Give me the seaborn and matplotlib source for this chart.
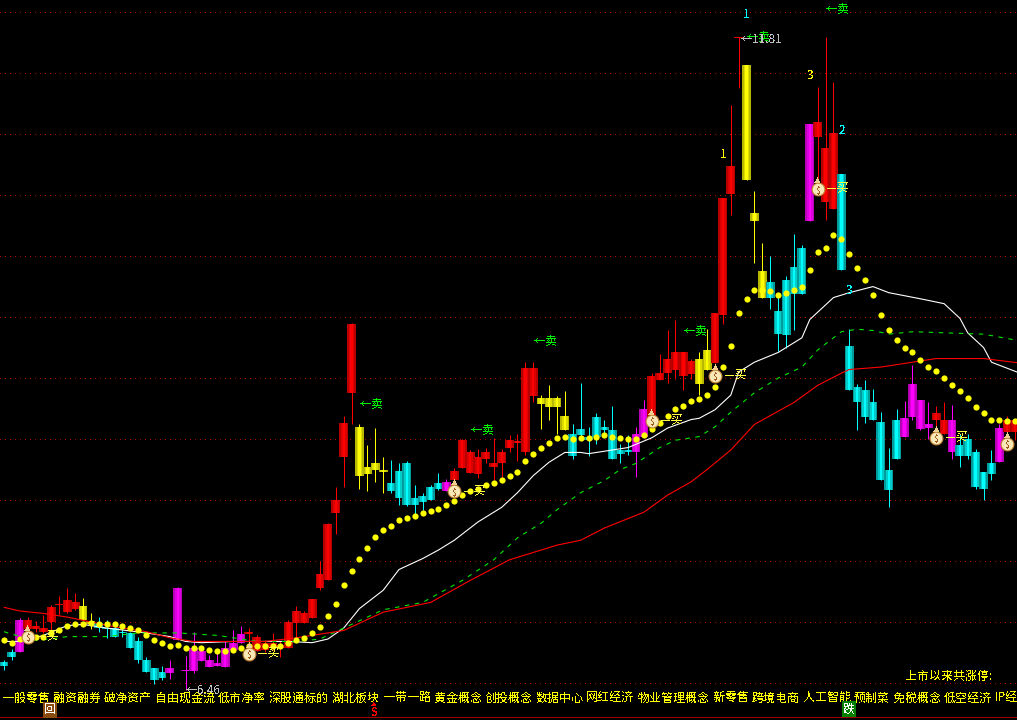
#!/usr/bin/env python3
"""Daily candlestick chart with moving averages, dark terminal style."""
import matplotlib
matplotlib.use("Agg")
import matplotlib.pyplot as plt
import numpy as np
import seaborn as sns

# candle kinds: r up, c down, y and m are the highlighted phases
kinds = "ccm" + "r" * 7 + "yy" + "c" * 9 + "m" * 10 + "r" * 14 + "y" * 4 + "c" * 7 + "m" \
    + "r" * 11 + "y" * 4 + "c" * 8 + "mm" + "r" * 6 + "yy" + "r" * 4 + "yyy" + "c" * 5 + "m" \
    + "rrr" + "c" * 8 + "m" * 4 + "rr" + "m" + "c" * 5 + "m" + "rr"

body_top = [6.67, 6.75, 7.02, 7.02, 6.97, 6.95, 7.12, 7.15, 7.18, 7.16, 7.13, 7.01, 6.99, 6.95, 6.95,
            6.92, 6.91, 6.84, 6.69, 6.62, 6.59, 6.62, 7.28, 6.61, 6.79, 6.76, 6.69, 6.66, 6.79, 6.83,
            6.90, 6.92, 6.88, 6.83, 6.83, 6.81, 7.00, 7.09, 7.07, 7.19, 7.39, 7.80, 8.00, 8.63, 9.44,
            8.60, 8.27, 8.30, 8.25, 8.14, 8.24, 8.30, 8.02, 8.03, 8.11, 8.14, 8.15, 8.24, 8.49, 8.39,
            8.35, 8.39, 8.30, 8.39, 8.49, 8.48, 9.08, 9.08, 8.84, 8.84, 8.84, 8.69, 8.54, 8.58, 8.52,
            8.68, 8.60, 8.57, 8.41, 8.41, 8.54, 8.75, 9.02, 9.04, 9.16, 9.21, 9.21, 9.14, 9.16, 9.23,
            9.53, 10.48, 10.74, 11.80, 11.57, 10.35, 9.88, 9.79, 9.55, 9.80, 9.91, 10.07, 11.08, 11.10, 10.89,
            11.01, 10.67, 9.26, 8.93, 8.90, 8.80, 8.64, 8.25, 8.66, 8.67, 8.95, 8.82, 8.62, 8.71, 8.66,
            8.66, 8.45, 8.50, 8.39, 8.23, 8.30, 8.59, 8.66, 8.66]
body_bot = [6.64, 6.71, 6.75, 6.94, 6.94, 6.92, 7.00, 7.14, 7.08, 7.11, 7.02, 6.98, 6.95, 6.94, 6.88,
            6.91, 6.79, 6.69, 6.59, 6.52, 6.54, 6.58, 6.85, 6.60, 6.60, 6.68, 6.63, 6.64, 6.63, 6.77,
            6.83, 6.90, 6.76, 6.77, 6.79, 6.79, 6.79, 6.99, 6.99, 7.03, 7.28, 7.34, 7.89, 8.35, 8.88,
            8.20, 8.21, 8.25, 8.23, 8.07, 8.02, 7.96, 7.96, 7.98, 8.00, 8.09, 8.07, 8.16, 8.26, 8.22,
            8.21, 8.34, 8.27, 8.30, 8.43, 8.47, 8.39, 8.85, 8.79, 8.76, 8.76, 8.57, 8.36, 8.53, 8.49,
            8.52, 8.57, 8.34, 8.38, 8.39, 8.39, 8.52, 8.68, 8.98, 9.04, 9.07, 9.02, 9.03, 8.95, 9.07,
            9.12, 9.52, 10.51, 11.79, 10.62, 10.29, 9.66, 9.66, 9.36, 9.35, 9.69, 9.69, 10.29, 10.98, 10.44,
            10.39, 9.89, 8.90, 8.80, 8.68, 8.66, 8.16, 8.08, 8.34, 8.52, 8.68, 8.58, 8.59, 8.66, 8.54,
            8.39, 8.36, 8.36, 8.11, 8.09, 8.21, 8.31, 8.56, 8.56]
high = [6.69, 6.78, 7.03, 7.04, 7.01, 7.06, 7.14, 7.21, 7.28, 7.24, 7.20, 7.07, 7.04, 7.02, 6.97,
        6.98, 6.92, 6.88, 6.71, 6.62, 6.64, 6.69, 7.29, 6.72, 6.92, 6.79, 6.73, 6.75, 6.84, 6.93,
        6.97, 6.95, 6.89, 6.85, 6.91, 6.84, 7.02, 7.13, 7.09, 7.19, 7.50, 7.81, 8.11, 8.69, 9.45,
        8.62, 8.45, 8.59, 8.35, 8.33, 8.30, 8.32, 8.12, 8.06, 8.12, 8.22, 8.17, 8.26, 8.50, 8.41,
        8.42, 8.43, 8.51, 8.42, 8.53, 8.54, 9.13, 9.13, 8.86, 8.94, 8.85, 8.89, 8.62, 8.96, 8.60,
        8.71, 8.66, 8.77, 8.46, 8.53, 8.60, 8.82, 9.04, 9.20, 9.39, 9.48, 9.21, 9.16, 9.21, 9.40,
        9.53, 10.48, 11.24, 11.80, 11.57, 10.53, 10.11, 10.00, 9.68, 9.84, 10.18, 10.09, 11.08, 11.39, 11.80,
        11.43, 10.67, 9.40, 8.95, 8.98, 8.91, 8.72, 8.43, 8.75, 8.81, 9.11, 8.82, 8.80, 8.77, 8.80,
        8.78, 8.54, 8.54, 8.42, 8.23, 8.41, 8.62, 8.69, 8.66]
low = [6.61, 6.69, 6.75, 6.85, 6.92, 6.91, 6.92, 7.06, 7.07, 7.10, 7.02, 6.94, 6.92, 6.87, 6.88,
       6.88, 6.79, 6.66, 6.59, 6.49, 6.52, 6.53, 6.85, 6.44, 6.58, 6.68, 6.63, 6.64, 6.63, 6.77,
       6.83, 6.81, 6.76, 6.75, 6.77, 6.71, 6.79, 6.85, 6.99, 7.03, 7.26, 7.34, 7.72, 8.11, 8.62,
       8.09, 8.07, 8.15, 8.06, 8.06, 7.96, 7.95, 7.88, 7.92, 8.00, 8.08, 8.07, 8.14, 8.26, 8.22,
       8.18, 8.30, 8.16, 8.19, 8.39, 8.32, 8.37, 8.80, 8.58, 8.66, 8.54, 8.57, 8.34, 8.52, 8.36,
       8.46, 8.52, 8.34, 8.30, 8.37, 8.19, 8.52, 8.68, 8.98, 8.96, 8.99, 8.90, 8.99, 8.86, 9.07,
       9.12, 9.44, 10.34, 11.38, 10.62, 9.94, 9.66, 9.57, 9.22, 9.25, 9.39, 9.69, 10.29, 10.61, 10.30,
       10.39, 9.89, 8.90, 8.57, 8.63, 8.66, 8.16, 7.94, 8.34, 8.52, 8.66, 8.57, 8.50, 8.53, 8.54,
       8.34, 8.27, 8.34, 8.09, 8.00, 8.16, 8.31, 8.43, 8.49]

# yellow dotted trend line, one value per candle
trend = [6.85, 6.83, 6.86, 6.86, 6.88, 6.88, 6.91, 6.93, 6.97, 6.98, 6.98, 6.99, 6.98, 6.98, 6.98,
         6.97, 6.95, 6.93, 6.89, 6.85, 6.83, 6.80, 6.81, 6.79, 6.79, 6.79, 6.77, 6.76, 6.76, 6.77,
         6.79, 6.80, 6.80, 6.80, 6.80, 6.80, 6.83, 6.85, 6.87, 6.91, 6.96, 7.05, 7.15, 7.30, 7.42,
         7.52, 7.61, 7.70, 7.75, 7.79, 7.84, 7.85, 7.87, 7.89, 7.91, 7.93, 7.96, 7.99, 8.04, 8.07,
         8.09, 8.12, 8.14, 8.16, 8.20, 8.23, 8.32, 8.38, 8.43, 8.47, 8.51, 8.52, 8.50, 8.51, 8.51,
         8.52, 8.53, 8.52, 8.51, 8.50, 8.50, 8.53, 8.58, 8.63, 8.69, 8.75, 8.77, 8.81, 8.83, 8.86,
         8.93, 9.09, 9.26, 9.53, 9.65, 9.72, 9.72, 9.71, 9.68, 9.70, 9.72, 9.75, 9.89, 10.03, 10.07,
         10.17, 10.14, 10.02, 9.90, 9.80, 9.68, 9.52, 9.39, 9.31, 9.25, 9.21, 9.15, 9.09, 9.06, 9.00,
         8.94, 8.89, 8.84, 8.76, 8.71, 8.66, 8.66, 8.65, 8.65]

# moving averages, read at selected candles
white_idx = [0, 2, 5, 8, 10, 13, 18, 21, 23, 25, 29, 33, 36, 39, 41, 43, 45, 48, 50, 53, 55, 57, 60, 63, 65,
             67, 69, 71, 73, 74, 77, 79, 82, 84, 87, 88, 90, 92, 93, 95, 98, 101, 102, 105, 107, 110, 112,
             116, 119, 121, 122, 124, 125, 129]
white_ma = [6.84, 6.84, 6.89, 6.97, 6.98, 6.95, 6.91, 6.88, 6.84, 6.83, 6.84, 6.84, 6.84, 6.83, 6.86, 6.95,
            7.11, 7.26, 7.43, 7.52, 7.59, 7.67, 7.82, 7.94, 8.06, 8.20, 8.31, 8.39, 8.39, 8.38, 8.41, 8.43,
            8.51, 8.59, 8.66, 8.67, 8.74, 8.86, 9.05, 9.13, 9.21, 9.33, 9.48, 9.66, 9.70, 9.75, 9.70, 9.65,
            9.61, 9.49, 9.37, 9.25, 9.13, 9.03]
green_idx = [0, 1, 4, 6, 8, 13, 17, 22, 27, 32, 37, 40, 43, 48, 53, 58, 62, 65, 68, 70, 73, 76, 78, 80, 83,
             85, 88, 90, 92, 95, 98, 101, 103, 106, 108, 110, 112, 115, 124, 129]
green_ma = [6.92, 6.90, 6.85, 6.86, 6.88, 6.88, 6.91, 6.91, 6.89, 6.84, 6.84, 6.86, 6.95, 7.10, 7.16, 7.34,
            7.51, 7.69, 7.81, 7.92, 8.06, 8.16, 8.25, 8.30, 8.43, 8.49, 8.52, 8.60, 8.72, 8.88, 9.00, 9.09,
            9.23, 9.38, 9.40, 9.39, 9.36, 9.38, 9.36, 9.30]
red_idx = [0, 2, 5, 8, 11, 14, 18, 21, 24, 29, 33, 37, 43, 48, 54, 59, 64, 70, 73, 76, 81, 84, 87, 89, 92,
           95, 100, 103, 106, 107, 111, 116, 118, 124, 129]
red_ma = [7.12, 7.09, 7.07, 7.04, 7.00, 6.96, 6.92, 6.87, 6.84, 6.84, 6.84, 6.87, 6.93, 7.08, 7.16, 7.34,
          7.51, 7.63, 7.67, 7.77, 7.90, 8.04, 8.15, 8.25, 8.41, 8.62, 8.80, 8.94, 9.04, 9.07, 9.09, 9.14,
          9.16, 9.16, 9.12]

# signals: candle index and price
bag_idx = [3, 31, 57, 82, 90, 103, 118, 127]
bag_price = [6.88, 6.74, 8.07, 8.65, 9.02, 10.55, 8.51, 8.46]
sell_idx = [45, 67, 59, 86, 94, 104]
sell_price = [8.79, 9.31, 8.58, 9.39, 11.80, 12.03]

concepts = ["一般零售", "融资融券", "破净资产", "自由现金流", "低市净率", "深股通标的", "湖北板块", "一带一路",
            "黄金概念", "创投概念", "数据中心", "网红经济", "物业管理概念", "新零售", "跨境电商", "人工智能",
            "预制菜", "免税概念", "低空经济", "IP经"]
concept_left = [2, 53, 104, 155, 218, 269, 332, 383, 434, 485, 536, 586, 638, 713, 752, 803, 854, 893, 944, 995]

# edge, middle and centre shades of a candle body
shades = {
    "r": ("#b80000", "#dc0000", "#ff0000"),
    "c": ("#009c9c", "#00cccc", "#00ffff"),
    "y": ("#b8b800", "#dcdc00", "#ffff00"),
    "m": ("#b800b8", "#dc00dc", "#ff00ff"),
}
wick_colors = {"r": "#ff0000", "c": "#00ffff", "y": "#ffff00", "m": "#ff00ff"}

sns.set_theme(style="dark", rc={"axes.facecolor": "black", "figure.facecolor": "black",
                                "text.antialiased": False})
plt.rcParams["font.family"] = ["Noto Sans CJK SC", "DejaVu Sans"]

fig = plt.figure(figsize=(10.17, 7.2), dpi=100)
ax = fig.add_axes([0, 0, 1, 1])

# price grid every 0.50
ax.set_yticks(np.arange(6.5, 12.01, 0.5))
ax.set_xticks([])
ax.grid(True, axis="y", color="#b00000", lw=0.72, linestyle=(0, (1, 4.5)), antialiased=False)
ax.set_axisbelow(True)

# candles, later ones drawn over earlier ones
for i, kind in enumerate(kinds):
    ax.vlines(i, low[i], high[i], color=wick_colors[kind], lw=0.72, zorder=3, snap=True)
    height = body_top[i] - body_bot[i]
    for shade, width in zip(shades[kind], (1.12, 0.72, 0.3)):
        ax.bar(i, height, bottom=body_bot[i], width=width, color=shade, lw=0, zorder=3)

sns.lineplot(x=white_idx, y=white_ma, color="white", lw=0.8, ax=ax, zorder=4)
sns.lineplot(x=green_idx, y=green_ma, color="#00e800", lw=0.8, linestyle=(0, (4, 5)), ax=ax, zorder=4)
sns.lineplot(x=red_idx, y=red_ma, color="#ff0000", lw=0.8, ax=ax, zorder=4)
sns.scatterplot(x=np.arange(len(trend)), y=trend, color="#ffff00", s=20, linewidth=0, ax=ax, zorder=5)

# money bags with the buy label
sns.scatterplot(x=bag_idx, y=bag_price, color="#f8e8b8", s=85, edgecolor="#c08030", linewidth=0.8, ax=ax, zorder=6)
for i, p in zip(bag_idx, bag_price):
    ax.annotate("$", (i, p), xytext=(0, -2), textcoords="offset pixels", ha="center", va="center",
                color="#a05a20", fontsize=6.5, zorder=7)
    ax.annotate("▲", (i, p), xytext=(0, 8), textcoords="offset pixels", ha="center", va="center",
                color="#f0d090", fontsize=5, zorder=6)
    ax.annotate("—买", (i, p), xytext=(9, 1), textcoords="offset pixels", ha="left", va="center",
                color="#ffff40", fontsize=8.6, zorder=7)

for i, p in zip(sell_idx, sell_price):
    ax.text(i, p, "←卖", color="#00f000", fontsize=8.6, ha="left", va="center", zorder=7)

# wave counts and extreme price labels
for i, p, label, col in [(94, 11.98, "1", "#00ffff"), (91, 10.83, "1", "#ffff00"), (102, 11.48, "3", "#ffff00"),
                         (106, 11.03, "2", "#00ffff"), (107, 9.72, "3", "#00ffff")]:
    ax.text(i, p, label, color=col, fontsize=8.6, ha="center", va="center", zorder=7)
ax.text(93.2, 11.78, "←11.81", color="#c0c0c0", fontsize=8.6, ha="left", va="center", zorder=7)
ax.text(23, 6.44, "←6.46", color="#c0c0c0", fontsize=8.6, ha="left", va="center", zorder=7)

ax.axhline(6.22, color="#a00000", lw=0.72, zorder=2)

ax.set_xlim(-0.506, 128.23)
ax.set_ylim(6.196, 12.10)
ax.tick_params(length=0, labelleft=False, labelbottom=False)
ax.set_xlabel("")
ax.set_ylabel("")
sns.despine(ax=ax, left=True, bottom=True)

# footer text sits outside the price scale
for word, left in zip(concepts, concept_left):
    fig.text(left / 1017, 1 - 698 / 720, word, color="#ffff00", fontsize=8.64, ha="left", va="center")
fig.text(905 / 1017, 1 - 676 / 720, "上市以来共涨停:", color="#ffff00", fontsize=8.64, ha="left", va="center")
fig.text(50 / 1017, 1 - 710 / 720, "回", color="white", fontsize=8.6, ha="center", va="center",
         bbox=dict(facecolor="#8a4a10", edgecolor="none", pad=0.8))
fig.text(374 / 1017, 1 - 705 / 720, "▲", color="#ff0000", fontsize=4, ha="center", va="center")
fig.text(374 / 1017, 1 - 712 / 720, "S", color="#ff0000", fontsize=8, fontweight="bold", ha="center", va="center")
fig.text(849 / 1017, 1 - 709 / 720, "跌", color="white", fontsize=8.6, ha="center", va="center",
         bbox=dict(facecolor="#008000", edgecolor="none", pad=0.8))

plt.savefig("out.png", dpi=100, facecolor="black")
plt.close()
